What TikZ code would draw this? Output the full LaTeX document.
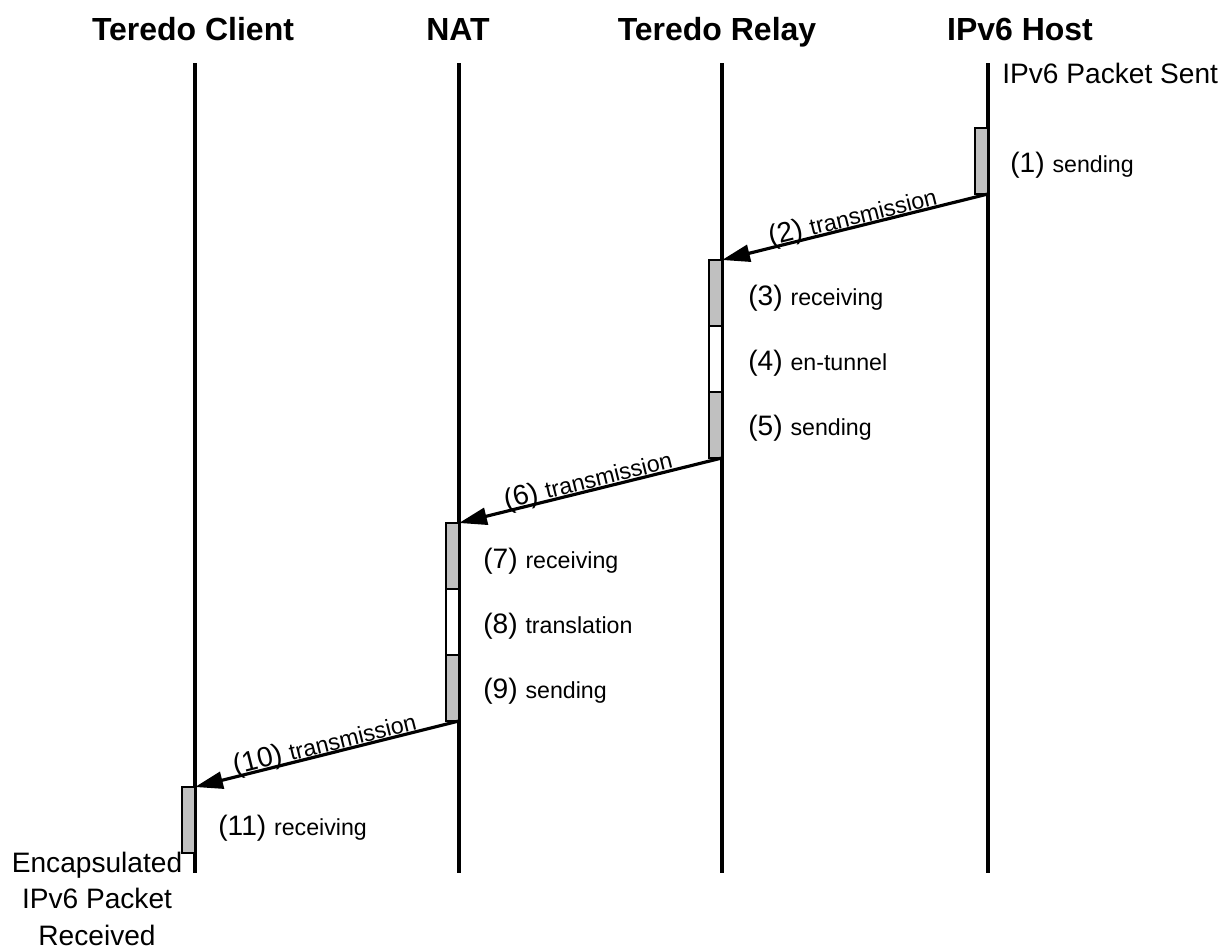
\documentclass[tikz,border=0pt]{standalone}
\usepackage{fontspec}
\setmainfont{Liberation Sans}
\usetikzlibrary{arrows.meta}
\definecolor{actgray}{HTML}{C0C0C0}
\newcommand{\hdrfont}{\fontsize{18.2pt}{21pt}\bfseries\selectfont}
\newcommand{\numfont}{\fontsize{16pt}{19pt}\selectfont}
\newcommand{\wordfont}{\fontsize{13.2pt}{16pt}\selectfont}
\begin{document}
\begin{tikzpicture}[x=0.02cm,y=-0.02cm,
  life/.style={line width=1.8pt},
  act/.style={draw, line width=0.7pt, fill=actgray, minimum width=0.26cm,
    minimum height=1.32cm, inner sep=0pt, outer sep=0pt, anchor=north east},
  actw/.style={act, fill=white},
  msg/.style={line width=1.8pt, -{Triangle[length=0.56cm,width=0.34cm]}},
  hdr/.style={font=\hdrfont, anchor=base, inner sep=0pt},
  step label/.style={anchor=base west, inner sep=0pt},
  msglabel/.style={midway, sloped, above=-3pt, inner sep=0pt}
]
\useasboundingbox (0,0) rectangle (1220,947);

% participants
\node[hdr] (hc) at (193,40) {Teredo Client};
\node[hdr] (hn) at (458,40) {NAT};
\node[hdr] (hr) at (717,40) {Teredo Relay};
\node[hdr] (hh) at (1020,40) {IPv6 Host};

% lifelines
\coordinate (c-top) at (195,63);  \coordinate (c-bot) at (195,873);
\coordinate (n-top) at (459,63);  \coordinate (n-bot) at (459,873);
\coordinate (r-top) at (722,63);  \coordinate (r-bot) at (722,873);
\coordinate (h-top) at (988,63);  \coordinate (h-bot) at (988,873);
\draw[life] (c-top) -- (c-bot);
\draw[life] (n-top) -- (n-bot);
\draw[life] (r-top) -- (r-bot);
\draw[life] (h-top) -- (h-bot);

% activation bars
\node[act] (h1) at (988,128) {};
\node[act]  (r1) at (722,260) {};
\node[actw] (r2) at (r1.south east) {};
\node[act]  (r3) at (r2.south east) {};
\node[act]  (n1) at (459,523) {};
\node[actw] (n2) at (n1.south east) {};
\node[act]  (n3) at (n2.south east) {};
\node[act] (c1) at (195,787) {};

% messages
\draw[msg] (h1.south east) -- node[msglabel] {\numfont(2) \wordfont transmission} (r1.north east);
\draw[msg] (r3.south east) -- node[msglabel] {\numfont(6) \wordfont transmission} (n1.north east);
\draw[msg] (n3.south east) -- node[msglabel] {\numfont(10) \wordfont transmission} (c1.north east);

% step labels
\node[step label] (s1) at (1010,172) {\numfont(1) \wordfont sending};
\node[step label] (s3) at (748,305) {\numfont(3) \wordfont receiving};
\node[step label] (s4) at (748,370) {\numfont(4) \wordfont en-tunnel};
\node[step label] (s5) at (748,435) {\numfont(5) \wordfont sending};
\node[step label] (s7) at (483,568) {\numfont(7) \wordfont receiving};
\node[step label] (s8) at (483,633) {\numfont(8) \wordfont translation};
\node[step label] (s9) at (483,698) {\numfont(9) \wordfont sending};
\node[step label] (s11) at (218,835) {\numfont(11) \wordfont receiving};

% start and end notes
\node[step label, font=\numfont] (sent) at (1002,83) {IPv6 Packet Sent};
\node[anchor=base, inner sep=0pt, align=center,
  font=\fontsize{16pt}{20.5pt}\selectfont] (recv) at (97,945)
  {Encapsulated\\IPv6 Packet\\Received};
\end{tikzpicture}
\end{document}
